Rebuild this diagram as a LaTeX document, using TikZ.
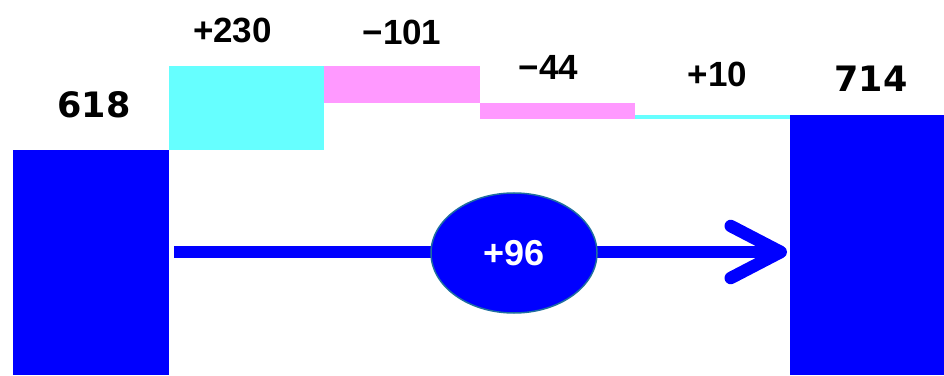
\documentclass[tikz,border=0pt]{standalone}
\usepackage{fontspec}
\setmainfont{Liberation Sans}
\newfontfamily\totalfont{DejaVu Sans}
\usepackage{tikz}
\usetikzlibrary{shapes,arrows.meta,positioning}
\definecolor{barblue}{RGB}{0,0,255}
\definecolor{upcyan}{RGB}{102,255,255}
\definecolor{downpink}{RGB}{255,153,255}
\definecolor{rimteal}{RGB}{31,110,160}
\tikzstyle{bar} = [rectangle, inner sep=0pt, outer sep=0pt, anchor=south west]
\tikzstyle{total} = [bar, fill=barblue]
\tikzstyle{up} = [bar, fill=upcyan]
\tikzstyle{down} = [bar, fill=downpink]
\tikzstyle{value} = [inner sep=0pt, font=\fontsize{35}{38}\selectfont\bfseries]
\tikzstyle{sum} = [inner sep=0pt, font=\totalfont\fontsize{35}{38}\selectfont\bfseries]
\tikzstyle{flow} = [draw=barblue, line width=12.5pt, line cap=butt,
    -{Straight Barb[length=50pt, width=52pt, line cap=round, line join=round]}]

\begin{document}
\begin{tikzpicture}[x=1pt, y=1pt]
    \useasboundingbox (0,0) rectangle (944,375);
    % We start by placing the bars
    \node [total, minimum width=156pt, minimum height=225pt] (start) at (13,0) {};
    \node [up, minimum width=155pt, minimum height=84pt] (plus230) at (169,225) {};
    \node [down, minimum width=156pt, minimum height=37pt] (minus101) at (324,272) {};
    \node [down, minimum width=155pt, minimum height=16pt] (minus44) at (480,256) {};
    \node [up, minimum width=155pt, minimum height=4pt] (plus10) at (635,256) {};
    \node [total, minimum width=154pt, minimum height=260pt] (finish) at (790,0) {};
    % The values above each bar
    \node [sum, above=32pt of start, xshift=3pt] (startval) {618};
    \node [value, above=23pt of plus230, xshift=-14pt] (plus230val) {+230};
    \node [value, above=21pt of minus101] (minus101val) {−101};
    \node [value, above=23pt of minus44, xshift=-9pt] (minus44val) {−44};
    \node [value, above=28pt of plus10, xshift=5pt] (plus10val) {+10};
    \node [sum, above=23pt of finish, xshift=4pt] (finishval) {714};
    % We draw the change arrow between the two totals
    \coordinate (from) at (174,123);
    \draw [flow, shorten >=3pt] (from) -- (finish.west |- from);
    \node [ellipse, fill=barblue, draw=rimteal, line width=1.5pt,
        minimum width=166pt, minimum height=120pt, inner sep=0pt,
        font=\fontsize{36}{38}\selectfont\bfseries, text=white] (change) at (514,122) {+96};
\end{tikzpicture}
\end{document}
